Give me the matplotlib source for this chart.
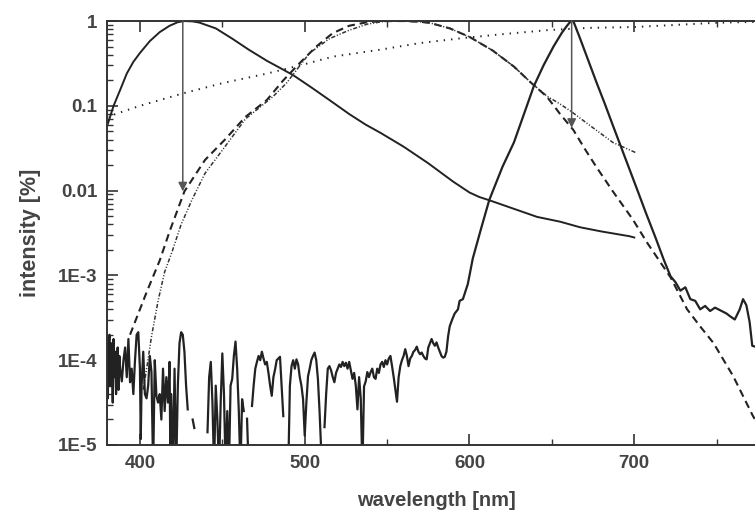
import numpy as np
import matplotlib
matplotlib.use("Agg")
import matplotlib.pyplot as plt
from matplotlib.ticker import FixedLocator, FixedFormatter, LogLocator, MultipleLocator

plt.rcParams['font.family'] = ['Liberation Sans', 'DejaVu Sans']
plt.rcParams['lines.scale_dashes'] = False

# --- data ---
# broad emission peaking near 426 nm (solid)
blue_nm = [380, 384, 388, 392, 396, 400, 406, 412, 418, 423, 427, 432, 436, 446, 456,
           466, 477, 485, 493, 504, 515, 527, 537, 546, 560, 575, 590, 600, 606, 612,
           620, 628, 641, 655, 667, 680, 697, 700]
blue_val = [0.057, 0.1, 0.154, 0.24, 0.33, 0.42, 0.58, 0.74, 0.88, 0.97, 1.0, 0.99, 0.96,
            0.82, 0.62, 0.46, 0.34, 0.28, 0.23, 0.165, 0.117, 0.08, 0.06, 0.048, 0.033,
            0.021, 0.0128, 0.0095, 0.0084, 0.0077, 0.0068, 0.006, 0.0049, 0.0043, 0.0037,
            0.0033, 0.0029, 0.0028]

# dashed curve
dash_nm = [394, 404, 412, 418, 427, 439.5, 451.6, 464, 477, 487, 497, 507, 517, 527, 538,
           548, 560, 570, 576, 588, 600, 614, 627, 637, 647, 655, 663, 670, 677, 687, 699,
           708, 722, 732, 740, 748, 760, 772, 780]
dash_val = [2.0e-4, 6.3e-4, 1.5e-3, 3.3e-3, 0.0098, 0.023, 0.04, 0.074, 0.117, 0.2, 0.32,
            0.5, 0.72, 0.88, 0.97, 1.0, 1.0, 0.98, 0.95, 0.82, 0.65, 0.45, 0.29, 0.19,
            0.128, 0.08, 0.052, 0.031, 0.019, 0.0098, 0.0046, 0.0024, 9.5e-4, 4.0e-4,
            2.5e-4, 1.6e-4, 6.5e-5, 2.2e-5, 1.2e-5]

# dash-dot curve
dd_nm = [402, 404.5, 407, 411, 415, 419.5, 425, 431.6, 439.5, 451.6, 464, 473, 481, 489,
         496, 503, 515, 527, 538, 548, 560, 570, 576, 588, 600, 614, 627, 637, 647, 655,
         662, 675, 687, 701]
dd_val = [4.5e-5, 9e-5, 1.9e-4, 5e-4, 1.1e-3, 1.9e-3, 4.0e-3, 0.0078, 0.016, 0.033, 0.07,
          0.097, 0.13, 0.186, 0.28, 0.42, 0.62, 0.78, 0.92, 0.99, 1.0, 0.98, 0.95, 0.82,
          0.65, 0.45, 0.29, 0.19, 0.13, 0.105, 0.085, 0.055, 0.037, 0.028]

# dotted curve
dot_nm = [380, 400, 426, 450, 477, 500, 517, 546, 570, 596, 620, 647, 672, 700, 720, 748,
          765, 780]
dot_val = [0.074, 0.1, 0.14, 0.185, 0.24, 0.31, 0.38, 0.46, 0.55, 0.63, 0.7, 0.78, 0.83,
           0.85, 0.89, 0.95, 0.97, 0.98]

# measured spectrum peaking near 662 nm, noisy floor (log10 values, nan = gap)
red_nm = [380, 380.5, 381, 381.5, 382, 382.5, 383, 383.5, 384, 384.5, 385, 385.5, 386,
          386.5, 387, 387.5, 388, 389, 390, 391, 392,
          393, 394, 395, 396, 397, 398, 399, 400, 400.5, 401, 402, 403, 404, 405, 406,
          407, 408, 409, 410, 411, 412, 413, 414, 415, 416, 417, 418, 418.5, 419, 420,
          421, 422, 423, 424, 425, 426, 427, 428, 429, 430, 432, 433, 434, 441, 442, 443,
          444, 445, 446, 447, 448, 449, 450, 451, 452, 453, 454, 455, 456, 457, 458, 459,
          460, 461, 462, 463, 463.5, 465, 466, 466.5, 468, 469, 470, 471, 472, 473, 474,
          475, 476, 477, 478, 479, 480, 481, 482, 483, 484, 485, 486, 487, 488, 490, 491,
          492, 493, 494, 495, 496, 497, 498, 499, 500, 501, 502, 503, 504, 505, 506, 507,
          508, 509, 510.5, 511, 512, 513, 514, 515, 516, 517, 518, 519, 520, 521, 522, 523,
          524, 525, 526, 527, 528, 529, 530, 531, 532, 533, 534, 535, 536, 537, 538, 539,
          540, 541, 542, 543, 544, 545, 546, 547, 548, 549, 550, 551, 552, 553, 554, 555,
          556, 557, 558, 559, 560, 561, 562, 563, 564, 565, 566, 567, 568, 569, 570, 571,
          572, 573, 574, 575, 576, 577, 578, 579, 580, 581, 582, 583, 584, 585, 586, 587,
          588, 589.5, 591, 593, 594, 596, 599, 602, 607, 612, 620, 627, 633, 639, 645, 651,
          656, 659, 661.5, 663, 665, 667, 672, 677, 682, 687, 695, 702, 707, 713, 718, 722,
          725, 728, 731, 734, 737, 740, 743, 746, 749, 753, 756, 758, 761, 764, 766, 768,
          770, 771.6, 775, 780]
red_lg = [-3.75, -4.45, -3.85, -3.7, -4.3, -3.8, -3.95, -4.5, -3.75, -4.2, -3.9, -4.4,
          -4.0, -3.85, -4.35, -3.95, -4.1, -4.25, -4.0,
          -3.85, -4.2, -3.75, -4.26, -4.1, -4.4, -4.0, -3.7, -3.67, -4.1, -4.93, -4.3, -3.9,
          -4.4, -4.45, -4.3, -3.95, -4.14, -5.3, -4.0, -4.42, -4.5, -4.4, -4.7, -4.1, -4.6,
          -4.2, -4.5, -4.02, -5.3, -4.4, -5.3, -4.1, -5.3, -4.3, -3.8, -3.67, -3.7, -3.9,
          -4.3, -4.58, np.nan, -4.7, -4.8, np.nan, -4.85, -4.2, -4.02, -4.5, -5.3, -4.3,
          -4.7, -5.3, -4.5, -3.92, -4.4, -5.3, -4.6, -5.3, -4.3, -4.22, -3.95, -3.78, -4.1,
          -4.6, -5.3, -4.46, -4.6, np.nan, -4.69, -5.3, np.nan, -4.54, -4.3, -4.1, -4.02,
          -3.95, -4.0, -3.9, -3.98, -4.05, -4.02, -4.15, -4.3, -4.42, -4.2, -4.11, -4.0,
          -3.98, -3.96, -4.3, -4.66, np.nan, -5.3, -4.3, -4.07, -4.0, -4.1, -3.99, -4.05,
          -4.2, -4.3, -4.46, -4.89, -4.5, -4.19, -4.1, -4.0, -3.95, -3.91, -4.0, -4.22,
          -4.6, -5.3, np.nan, -4.79, -4.4, -4.1, -4.07, -4.12, -4.2, -4.26, -4.15, -4.1,
          -4.05, -4.08, -4.02, -4.07, -4.03, -4.1, -4.02, -4.12, -4.22, -4.15, -4.3, -4.58,
          -4.2, -4.45, -5.3, -4.31, -4.25, -4.14, -4.2, -4.14, -4.1, -4.2, -4.22, -4.1,
          -4.15, -4.05, -4.02, -4.08, -4.0, -4.05, -3.98, -3.95, -4.07, -4.2, -4.35, -4.49,
          -4.2, -4.07, -4.0, -3.95, -3.87, -3.95, -4.07, -3.98, -3.95, -3.9, -3.88, -3.84,
          -3.9, -3.93, -3.91, -3.95, -3.98, -3.99, -3.85, -3.8, -3.75, -3.8, -3.83, -3.79,
          -3.85, -3.9, -3.95, -3.97, -3.96, -3.9, -3.72,
          -3.6, -3.52, -3.45, -3.4, -3.3, -3.28, -3.1, -2.8, -2.45, -2.11, -1.72, -1.43,
          -1.1, -0.77, -0.52, -0.3, -0.14, -0.06, 0.0, 0.0, -0.1, -0.2, -0.46, -0.72,
          -0.97, -1.23, -1.64,
          -2.0, -2.26, -2.56, -2.82, -3.01,
          -3.08, -3.18, -3.14, -3.28, -3.3, -3.4, -3.36, -3.42, -3.38, -3.42, -3.45, -3.48,
          -3.52, -3.4, -3.28, -3.35, -3.55, -3.83, -3.85, -3.9]

arrow_nm = [426, 662]
arrow_tip = [0.0098, 0.055]

ytick_vals = [1e-5, 1e-4, 1e-3, 1e-2, 1e-1, 1]
ytick_text = ["1E-5", "1E-4", "1E-3", "0.01", "0.1", "1"]
xtick_vals = [400, 500, 600, 700]

ink = '#222222'
txt = '#444444'

fig = plt.figure(figsize=(7.55, 5.12), dpi=100)
ax = fig.add_axes([0.1417, 0.1309, 0.873, 0.828])

ax.plot(blue_nm, blue_val, color=ink, lw=1.4)
ax.plot(dash_nm, dash_val, color=ink, lw=1.5, linestyle=(0, (5.5, 3.5)))
ax.plot(dd_nm, dd_val, color='#333333', lw=1.1,
        linestyle=(0, (3, 1.3, 0.8, 1.3, 0.8, 1.3)))
ax.plot(dot_nm, dot_val, color=ink, lw=1.4, linestyle=(0, (1, 4.3)))
ax.plot(red_nm, 10 ** np.array(red_lg), color=ink, lw=1.6)

for xa, tip in zip(arrow_nm, arrow_tip):
    ax.annotate('', xy=(xa, tip), xytext=(xa, 1.0),
                arrowprops=dict(arrowstyle='-|>', color='#555555', lw=1.1,
                                mutation_scale=13, shrinkA=0, shrinkB=0))

ax.set_yscale('log')
ax.set_xlim(380, 780)
ax.set_ylim(1e-5, 1)

ax.yaxis.set_major_locator(FixedLocator(ytick_vals))
ax.yaxis.set_major_formatter(FixedFormatter(ytick_text))
ax.yaxis.set_minor_locator(LogLocator(base=10, subs=np.arange(2, 10)))
ax.yaxis.set_minor_formatter(FixedFormatter([]))
ax.xaxis.set_major_locator(FixedLocator(xtick_vals))
ax.xaxis.set_minor_locator(MultipleLocator(50))

ax.tick_params(which='both', direction='in', top=True, right=True, color='#333333')
ax.tick_params(which='major', length=8, width=1.2, labelsize=13.5, labelcolor=txt, pad=7)
ax.tick_params(which='minor', length=4, width=1.0)
for lab in ax.get_xticklabels() + ax.get_yticklabels():
    lab.set_fontweight('bold')

for s in ax.spines.values():
    s.set_color('#333333')
    s.set_linewidth(1.4)

ax.set_xlabel('wavelength [nm]', fontsize=14.5, fontweight='bold', color=txt, labelpad=14)
ax.set_ylabel('intensity [%]', fontsize=15.5, fontweight='bold', color=txt, labelpad=12)

fig.savefig('out.png', dpi=100)
